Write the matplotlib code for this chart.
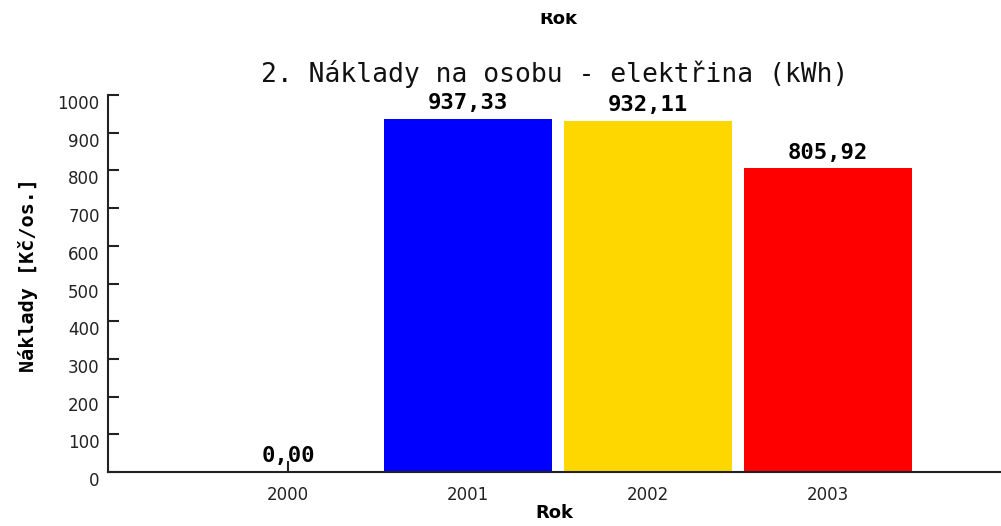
import matplotlib
matplotlib.use("Agg")
import matplotlib.pyplot as plt
import matplotlib.transforms as mtransforms

years = ["2000", "2001", "2002", "2003"]
values = [0.00, 937.33, 932.11, 805.92]
colors = ["#00AA00", "#0000FF", "#FFD700", "#FF0000"]
title = "2. Náklady na osobu - elektřina (kWh)"
xlabel = "Rok"
ylabel = "Náklady [Kč/os.]"
yticks = [0, 100, 200, 300, 400, 500, 600, 700, 800, 900, 1000]

W, H = 1001, 526
fig = plt.figure(figsize=(W/100, H/100), dpi=100)
ax = fig.add_axes([108/W, 54/H, 1 - 108/W, (472-95)/H])

xpos = list(range(len(years)))
ax.bar(xpos, values, width=0.93, color=colors, edgecolor="none", zorder=2)
ax.set_xlim(-1.0, 3.96)
ax.set_ylim(0, 1000)

for x, v in zip(xpos, values):
    ax.annotate(f"{v:.2f}".replace(".", ","), (x, v), xytext=(0, 4),
                textcoords="offset points", ha="center", va="bottom",
                fontsize=16, fontweight="bold", family="DejaVu Sans Mono",
                color="black")

ax.set_xticks(xpos)
ax.set_xticklabels(years, fontsize=12, color="#222222")
ax.set_yticks(yticks)
ax.set_yticklabels([str(t) for t in yticks], fontsize=12, color="#222222")
ax.tick_params(axis="both", direction="in", length=8, width=1.5, color="#222222")
ax.tick_params(axis="y", pad=6)
ax.tick_params(axis="x", pad=10)

off = mtransforms.ScaledTranslation(0, -7/100, fig.dpi_scale_trans)
for lbl in ax.get_yticklabels():
    lbl.set_transform(lbl.get_transform() + off)

for s in ["top", "right"]:
    ax.spines[s].set_visible(False)
for s in ["left", "bottom"]:
    ax.spines[s].set_linewidth(1.5)
    ax.spines[s].set_color("#222222")

ax.set_title(title, fontsize=19, family="DejaVu Sans Mono", pad=9, color="#111111")
ax.set_xlabel(xlabel, fontsize=13, fontweight="bold", labelpad=0)
ax.set_ylabel(ylabel, fontsize=14.5, fontweight="bold", family="DejaVu Sans Mono")
ax.yaxis.set_label_coords(-70/893, (472-275)/377)

top = fig.text(558/W, 1 - 24/H, xlabel, ha="center", va="baseline", fontsize=13, fontweight="bold")
top.set_clip_box(mtransforms.TransformedBbox(mtransforms.Bbox.from_extents(0, 0, 1, (H - 13)/H), fig.transFigure))
top.set_clip_on(True)

fig.savefig("out.png", dpi=100)
